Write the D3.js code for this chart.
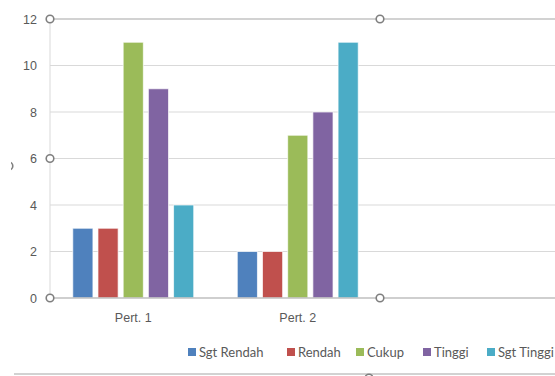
<!DOCTYPE html>
<html>
<head>
<meta charset="utf-8">
<script src="https://cdn.jsdelivr.net/npm/d3@7"></script>
<style>
  html, body { margin: 0; padding: 0; background: #fff; }
  svg { display: block; font-family: Lato, "Open Sans", sans-serif; }
</style>
</head>
<body>
<svg id="chart" width="555" height="376"></svg>
<script>
// Categories (test rounds) and series (score levels)
const categories = ["Pert. 1", "Pert. 2"];
const seriesNames = ["Sgt Rendah", "Rendah", "Cukup", "Tinggi", "Sgt Tinggi"];
const sgtRendah = [3, 2];
const rendah = [3, 2];
const cukup = [11, 7];
const tinggi = [9, 8];
const sgtTinggi = [4, 11];
const yTicks = [0, 2, 4, 6, 8, 10, 12];
const colors = ["#4F81BD", "#C0504D", "#9BBB59", "#8064A2", "#4BACC6"];

const seriesValues = [sgtRendah, rendah, cukup, tinggi, sgtTinggi];

const svg = d3.select("#chart");
const W = 555;
const plotLeft = 50, plotTop = 19, plotBottom = 298;
const textColor = "#595959";

const y = d3.scaleLinear().domain([0, 12]).range([plotBottom, plotTop]);
const x0 = d3.scaleBand().domain(categories).range([plotLeft + 1, plotLeft + 1 + 2 * 164.5]).paddingInner(0).paddingOuter(0);
const x1 = d3.scaleBand().domain(seriesNames).range([0, x0.bandwidth()]).paddingInner(0.2).paddingOuter(0.864);

// Horizontal gridlines
svg.append("g")
  .selectAll("line")
  .data(yTicks.filter(d => d > 0 && d < 12))
  .join("line")
  .attr("x1", plotLeft).attr("x2", W)
  .attr("y1", d => y(d)).attr("y2", d => y(d))
  .attr("stroke", "#d9d9d9").attr("stroke-width", 1);

// Vertical axis line
svg.append("line")
  .attr("x1", plotLeft).attr("x2", plotLeft)
  .attr("y1", plotTop).attr("y2", plotBottom)
  .attr("stroke", "#d9d9d9").attr("stroke-width", 1);

// Y axis labels
const yAxis = d3.axisLeft(y).tickValues(yTicks).tickSize(0).tickPadding(13);
const gy = svg.append("g").attr("transform", `translate(${plotLeft},0)`).call(yAxis);
gy.select(".domain").remove();
gy.selectAll("text").attr("fill", textColor).style("font-size", "12.5px");

// Bars
const groups = svg.append("g")
  .selectAll("g")
  .data(categories)
  .join("g")
  .attr("transform", d => `translate(${x0(d)},0)`);

groups.selectAll("rect")
  .data((c, ci) => seriesNames.map((s, si) => ({ s, si, v: seriesValues[si][ci] })))
  .join("rect")
  .attr("x", d => x1(d.s))
  .attr("width", x1.bandwidth())
  .attr("y", d => y(d.v))
  .attr("height", d => y(0) - y(d.v))
  .attr("fill", d => colors[d.si])
  .attr("stroke", "#ffffff")
  .attr("stroke-opacity", 0.7)
  .attr("stroke-width", 1);

// Plot-area frame lines (top and bottom)
svg.append("line")
  .attr("x1", plotLeft).attr("x2", W)
  .attr("y1", plotTop).attr("y2", plotTop)
  .attr("stroke", "#a6a6a6").attr("stroke-width", 1.2);
svg.append("line")
  .attr("x1", plotLeft).attr("x2", W)
  .attr("y1", plotBottom).attr("y2", plotBottom)
  .attr("stroke", "#bfbfbf").attr("stroke-width", 1.5);

// Category labels
const xAxis = d3.axisBottom(x0).tickSize(0).tickPadding(15);
const gx = svg.append("g").attr("transform", `translate(0,${plotBottom})`).call(xAxis);
gx.select(".domain").remove();
gx.selectAll("text").attr("fill", textColor).style("font-size", "12.5px");

// Chart-area bottom border
svg.append("line")
  .attr("x1", 14).attr("x2", W)
  .attr("y1", 374).attr("y2", 374)
  .attr("stroke", "#a6a6a6").attr("stroke-width", 1.2);

// Selection handles; the chart-area ones sit partly outside the view
svg.append("clipPath").attr("id", "edgeClip")
  .append("rect").attr("x", 11).attr("y", 0).attr("width", W).attr("height", 376);
const handles = [
  [plotLeft, plotTop], [380, plotTop], [plotLeft, (plotTop + plotBottom) / 2],
  [plotLeft, plotBottom], [380, plotBottom], [369, 378], [9, 166]
];
svg.append("g")
  .attr("clip-path", "url(#edgeClip)")
  .selectAll("circle")
  .data(handles)
  .join("circle")
  .attr("cx", d => d[0]).attr("cy", d => d[1])
  .attr("r", 3.8)
  .attr("fill", "#fff")
  .attr("stroke", "#7f7f7f")
  .attr("stroke-width", 1.6);

// Legend
const legendX = [188, 287, 356, 423, 487];
const legend = svg.append("g")
  .selectAll("g")
  .data(seriesNames)
  .join("g")
  .attr("transform", (d, i) => `translate(${legendX[i]},352)`);
legend.append("rect")
  .attr("x", 0).attr("y", -4).attr("width", 8).attr("height", 8)
  .attr("fill", (d, i) => colors[i]);
legend.append("text")
  .attr("x", 11).attr("y", 0).attr("dy", "0.35em")
  .attr("fill", textColor)
  .style("font-size", "13px")
  .text(d => d);
</script>
</body>
</html>
